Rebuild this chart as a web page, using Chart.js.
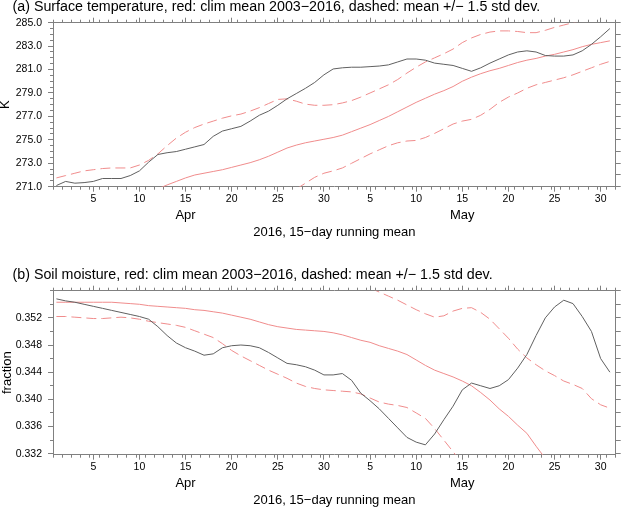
<!DOCTYPE html>
<html><head><meta charset="utf-8">
<script src="https://cdn.jsdelivr.net/npm/chart.js@4"></script>
<style>
html,body{margin:0;padding:0;background:#fff;}
body{width:623px;height:508px;position:relative;overflow:hidden;}
canvas{position:absolute;left:0;}
#c1{top:0;} #c2{top:268px;}
</style></head><body>
<canvas id="c1" width="623" height="240"></canvas>
<canvas id="c2" width="623" height="240"></canvas>
<script>
// ---------- data ----------
const days = [1,2,3,4,5,6,7,8,9,10,11,12,13,14,15,16,17,18,19,20,21,22,23,24,25,26,27,28,29,30,31,
  32,33,34,35,36,37,38,39,40,41,42,43,44,45,46,47,48,49,50,51,52,53,54,55,56,57,58,59,60,61];
const xTickDays = [5,10,15,20,25,30,35,40,45,50,55,60];
const xTickLabels = ['5','10','15','20','25','30','5','10','15','20','25','30'];
const monthTickDays = [15,45];
const monthLabels = ['Apr','May'];
const xAxisTitle = '2016, 15\u2212day running mean';

const tempTitle = '(a) Surface temperature, red: clim mean 2003\u22122016, dashed: mean +/\u2212 1.5 std dev.';
const tempTickValues = [271,273,275,277,279,281,283,285];
const tempTickLabels = ['271.0','273.0','275.0','277.0','279.0','281.0','283.0','285.0'];
const tempObs = [271.1,271.45,271.3,271.35,271.45,271.7,271.7,271.7,271.95,272.35,
  273.1,273.75,273.9,274.0,274.2,274.4,274.6,275.3,275.75,275.95,
  276.15,276.6,277.1,277.45,277.95,278.5,278.95,279.4,279.9,280.55,
  281.05,281.15,281.2,281.2,281.25,281.3,281.4,281.65,281.9,281.9,
  281.8,281.55,281.45,281.35,281.1,280.85,281.15,281.55,281.9,282.25,
  282.5,282.6,282.5,282.2,282.15,282.15,282.25,282.6,283.15,283.8,284.5];
const tempClim = [null,null,null,null,null,null,null,null,null,null,
  null,270.82,271.15,271.45,271.75,272.0,272.15,272.3,272.45,272.65,
  272.85,273.05,273.3,273.6,273.95,274.3,274.55,274.75,274.9,275.05,
  275.2,275.4,275.7,276.0,276.3,276.65,277.0,277.4,277.8,278.2,
  278.55,278.9,279.2,279.55,280.0,280.35,280.65,280.9,281.1,281.35,
  281.6,281.8,281.95,282.15,282.3,282.5,282.7,282.95,283.15,283.3,283.45];
const tempHigh = [271.75,271.95,272.15,272.35,272.45,272.55,272.6,272.6,272.6,272.85,
  273.25,273.8,274.5,275.15,275.65,276.05,276.35,276.6,276.85,277.05,
  277.2,277.45,277.75,278.1,278.45,278.5,278.3,278.05,277.95,277.95,
  278.0,278.15,278.35,278.65,279.0,279.35,279.7,280.15,280.7,281.2,
  281.65,282.0,282.35,282.75,283.3,283.7,284.0,284.2,284.3,284.3,
  284.25,284.15,284.15,284.35,284.6,284.8,285.0,285.2,null,null,null];
const tempLow = [null,null,null,null,null,null,null,null,null,null,
  null,null,null,null,null,null,null,null,null,null,
  null,null,null,null,null,null,270.8,271.3,271.8,272.15,
  272.35,272.6,273.0,273.4,273.8,274.15,274.5,274.75,274.9,274.95,
  275.2,275.55,275.95,276.35,276.6,276.75,277.1,277.6,278.2,278.65,
  279.0,279.4,279.7,279.9,280.1,280.3,280.55,280.85,281.15,281.45,281.7];

const soilTitle = '(b) Soil moisture, red: clim mean 2003\u22122016, dashed: mean +/\u2212 1.5 std dev.';
const soilTickValues = [0.332,0.336,0.340,0.344,0.348,0.352];
const soilTickLabels = ['0.332','0.336','0.340','0.344','0.348','0.352'];
const soilObs = [0.3548,0.3545,0.3543,0.3540,0.3537,0.3534,0.3531,0.3528,0.3525,0.3522,
  0.3518,0.3507,0.3494,0.3483,0.3476,0.3471,0.3465,0.3467,0.3476,0.3479,
  0.3480,0.3479,0.3476,0.3469,0.3461,0.3453,0.3451,0.3448,0.3443,0.3436,
  0.3436,0.3438,0.3428,0.3409,0.3398,0.3386,0.3372,0.3358,0.3344,0.3337,
  0.3333,0.3349,0.3370,0.3390,0.3414,0.3424,0.3420,0.3416,0.3420,0.3429,
  0.3446,0.3466,0.3494,0.3520,0.3536,0.3546,0.3541,0.3522,0.3500,0.3460,0.3440];
const soilClim = [0.3543,0.3543,0.3543,0.3543,0.3543,0.3543,0.3543,0.3542,0.3541,0.3540,
  0.3538,0.3537,0.3536,0.3535,0.3534,0.3532,0.3531,0.3529,0.3527,0.3524,
  0.3521,0.3518,0.3514,0.3510,0.3507,0.3505,0.3503,0.3502,0.3501,0.3500,
  0.3498,0.3495,0.3491,0.3487,0.3484,0.3479,0.3475,0.3471,0.3466,0.3458,
  0.3450,0.3443,0.3438,0.3433,0.3427,0.3420,0.3410,0.3399,0.3386,0.3375,
  0.3362,0.3350,0.3331,0.3313,null,null,null,null,null,null,null];
const soilHigh = [null,null,null,null,null,null,null,null,null,null,
  null,null,null,null,null,null,null,null,null,null,
  null,null,null,null,null,null,null,null,null,null,
  null,null,null,null,0.3564,0.3558,0.3552,0.3546,0.3539,0.3532,
  0.3526,0.3521,0.3523,0.3530,0.3534,0.3535,0.3528,0.3518,0.3504,0.3490,
  0.3474,0.3461,0.3451,0.3442,0.3435,0.3427,0.3422,0.3416,0.3401,0.3392,0.3387];
const soilLow = [0.3522,0.3522,0.3521,0.3520,0.3519,0.3519,0.3520,0.3521,0.3520,0.3518,
  0.3515,0.3513,0.3511,0.3509,0.3506,0.3501,0.3496,0.3491,0.3482,0.3472,
  0.3464,0.3457,0.3450,0.3443,0.3437,0.3431,0.3424,0.3419,0.3416,0.3414,
  0.3413,0.3412,0.3411,0.3408,0.3402,0.3396,0.3393,0.3391,0.3388,0.3380,
  0.3372,0.3357,0.3340,0.3323,0.3305,null,null,null,null,null,null,null,null,null,null,null,null,null,null,null,null];

// ---------- style ----------
const FONT = "'Liberation Sans', Arial, Helvetica, sans-serif";
const FRAME = '#808080';
const OBS_COLOR = '#606060';
const CLIM_COLOR = '#f08c8c';
const DASH = [10, 5];
const X_MIN = 0.63, X_MAX = 61.63;

const panelTitlePlugin = {
  id: 'panelTitle',
  afterDraw(chart, args, opts) {
    const ctx = chart.ctx;
    ctx.save();
    ctx.font = '14.25px ' + FONT;
    ctx.fillStyle = '#000';
    ctx.textAlign = 'left';
    ctx.textBaseline = 'middle';
    ctx.fillText(opts.text, opts.x, opts.y);
    ctx.restore();
  }
};

function pts(arr) { return days.map((d, i) => ({ x: d, y: arr[i] })); }

function makePanel(id, p) {
  const xb = { type: 'linear', min: X_MIN, max: X_MAX };
  const yb = { type: 'linear', min: p.yMin, max: p.yMax };
  const scales = {
    x: { ...xb, position: 'bottom', weight: 1,
      afterBuildTicks: s => { s.ticks = xTickDays.map(v => ({ value: v })); },
      ticks: { autoSkip: false, maxRotation: 0, minRotation: 0, padding: 1.5, color: '#000',
        font: { family: FONT, size: 10.5 }, callback: (v, i) => xTickLabels[i] },
      grid: { drawOnChartArea: false, tickLength: 5, color: FRAME, lineWidth: 1 },
      border: { display: true, color: FRAME, width: 1 },
      afterFit: s => { s.height = 20; } },
    xMinor: { ...xb, position: 'bottom', weight: 0,
      ticks: { display: false, stepSize: 1, includeBounds: false, autoSkip: false },
      grid: { drawOnChartArea: false, tickLength: 3, color: FRAME, lineWidth: 1 },
      border: { display: false },
      afterFit: s => { s.height = 0; } },
    xMonth: { ...xb, position: 'bottom', weight: 2,
      afterBuildTicks: s => { s.ticks = monthTickDays.map(v => ({ value: v })); },
      ticks: { autoSkip: false, maxRotation: 0, minRotation: 0, padding: 0.5, color: '#000',
        font: { family: FONT, size: 13 }, callback: (v, i) => monthLabels[i] },
      grid: { display: false, drawTicks: false, drawOnChartArea: false },
      border: { display: false },
      title: { display: true, text: xAxisTitle, color: '#000', font: { family: FONT, size: 13 },
        padding: { top: 0, bottom: 0 } },
      afterFit: s => { s.height = 33.3; } },
    xTop: { ...xb, position: 'top', weight: 1,
      afterBuildTicks: s => { s.ticks = xTickDays.map(v => ({ value: v })); },
      ticks: { display: false, autoSkip: false },
      grid: { drawOnChartArea: false, tickLength: 5, color: FRAME, lineWidth: 1 },
      border: { display: true, color: FRAME, width: 1 },
      afterFit: s => { s.height = 5; } },
    xTopMinor: { ...xb, position: 'top', weight: 0,
      ticks: { display: false, stepSize: 1, includeBounds: false, autoSkip: false },
      grid: { drawOnChartArea: false, tickLength: 3, color: FRAME, lineWidth: 1 },
      border: { display: false },
      afterFit: s => { s.height = 0; } },
    y: { ...yb, position: 'left', weight: 1,
      afterBuildTicks: s => { s.ticks = p.yTickValues.map(v => ({ value: v })); },
      ticks: { autoSkip: false, padding: 6, color: '#000', font: { family: FONT, size: 10.5 },
        callback: (v, i) => p.yTickLabels[i] },
      grid: { drawOnChartArea: false, tickLength: 5, color: FRAME, lineWidth: 1 },
      border: { display: true, color: FRAME, width: 1 },
      title: { display: true, text: p.yTitle, color: '#000', font: { family: FONT, size: 13 },
        padding: { top: p.yTitlePad, bottom: 0 } },
      afterFit: s => { s.width = 53; } },
    yMinor: { ...yb, position: 'left', weight: 0,
      ticks: { display: false, stepSize: p.yMinorStep, includeBounds: false, autoSkip: false },
      grid: { drawOnChartArea: false, tickLength: 3, color: FRAME, lineWidth: 1 },
      border: { display: false },
      afterFit: s => { s.width = 0; } },
    yRight: { ...yb, position: 'right', weight: 1,
      ticks: { display: false, stepSize: p.yRightStep, includeBounds: false, autoSkip: false },
      grid: { drawOnChartArea: false, tickLength: 5, color: FRAME, lineWidth: 1 },
      border: { display: true, color: FRAME, width: 1 },
      afterFit: s => { s.width = 7.3; } }
  };
  const datasets = p.series.map(s => ({
    data: pts(s.values), borderColor: s.color, borderWidth: 1, borderDash: s.dash || [],
    pointRadius: 0, tension: 0, fill: false, spanGaps: false, xAxisID: 'x', yAxisID: 'y'
  }));
  return new Chart(document.getElementById(id), {
    type: 'line',
    data: { datasets },
    options: {
      responsive: false, animation: false, devicePixelRatio: 1, events: [],
      layout: { padding: { top: 17.7, left: 0, right: 0, bottom: 0 } },
      scales,
      plugins: { legend: { display: false }, tooltip: { enabled: false },
        panelTitle: { text: p.title, x: 12.5, y: 7 } }
    },
    plugins: [panelTitlePlugin]
  });
}

makePanel('c1', {
  title: tempTitle, yTitle: 'K', yTitlePad: -2.5,
  yMin: 271, yMax: 285, yTickValues: tempTickValues, yTickLabels: tempTickLabels,
  yMinorStep: 0.5, yRightStep: 1,
  series: [
    { values: tempObs, color: OBS_COLOR },
    { values: tempClim, color: CLIM_COLOR },
    { values: tempHigh, color: CLIM_COLOR, dash: DASH },
    { values: tempLow, color: CLIM_COLOR, dash: DASH }
  ]
});
makePanel('c2', {
  title: soilTitle, yTitle: 'fraction', yTitlePad: 0,
  yMin: 0.33185, yMax: 0.356, yTickValues: soilTickValues, yTickLabels: soilTickLabels,
  yMinorStep: 0.002, yRightStep: 0.002,
  series: [
    { values: soilObs, color: OBS_COLOR },
    { values: soilClim, color: CLIM_COLOR },
    { values: soilHigh, color: CLIM_COLOR, dash: DASH },
    { values: soilLow, color: CLIM_COLOR, dash: DASH }
  ]
});
</script></body></html>
